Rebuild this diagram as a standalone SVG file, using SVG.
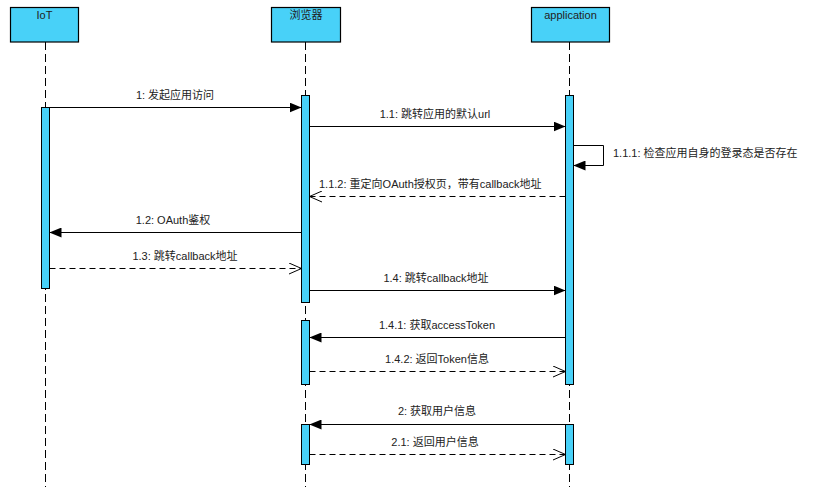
<svg xmlns="http://www.w3.org/2000/svg" width="813" height="487" viewBox="0 0 813 487">
<style>
.head{fill:#48D1F8;stroke:#000;stroke-width:1.2}
.bar{fill:#48D1F8;stroke:#000;stroke-width:1}
.life{stroke:#000;stroke-width:1;stroke-dasharray:8 4;fill:none}
.msg{stroke:#000;stroke-width:1;fill:none}
.ret{stroke:#000;stroke-width:1;fill:none;stroke-dasharray:6 4}
text{font-family:"Liberation Sans","Noto Sans CJK SC",sans-serif;font-size:11px;fill:#222}
.c{text-anchor:middle}
</style>
<defs>
<marker id="fill" viewBox="0 0 12 10" refX="12" refY="5" markerWidth="12" markerHeight="10" markerUnits="userSpaceOnUse" orient="auto">
<path d="M0,0 L12,5 L0,10 Z" fill="#000"/>
</marker>
<marker id="open" viewBox="0 0 13 12" refX="12.5" refY="6" markerWidth="13" markerHeight="12" markerUnits="userSpaceOnUse" orient="auto">
<path d="M0,0.5 L12.5,6 L0,11.5" fill="none" stroke="#000" stroke-width="1"/>
</marker>
</defs>
<rect width="813" height="487" fill="#fff"/>
<g id="lifelines">
<line class="life" x1="45.5" y1="42" x2="45.5" y2="487"/>
<line class="life" x1="305.5" y1="42" x2="305.5" y2="487"/>
<line class="life" x1="569.5" y1="42" x2="569.5" y2="487"/>
</g>
<g id="IoT">
<rect class="head" x="10.5" y="7.5" width="68" height="34.5"/>
<text class="c" x="44.5" y="19">IoT</text>
<rect class="bar" x="41.5" y="107.5" width="8" height="181"/>
</g>
<g id="browser">
<rect class="head" x="271.5" y="7.5" width="69" height="34.5"/>
<text class="c" x="306" y="19">浏览器</text>
<rect class="bar" x="301.5" y="95.5" width="8" height="207"/>
<rect class="bar" x="301.5" y="320.5" width="8" height="64"/>
<rect class="bar" x="301.5" y="424.5" width="8" height="40"/>
</g>
<g id="application">
<rect class="head" x="531.5" y="7.5" width="78" height="34.5"/>
<text class="c" x="570.5" y="19">application</text>
<rect class="bar" x="565.5" y="95.5" width="8" height="289"/>
<rect class="bar" x="565.5" y="424.5" width="8" height="40"/>
</g>
<g id="connectors">
<line class="msg" x1="49.5" y1="107.5" x2="301.5" y2="107.5" marker-end="url(#fill)"/>
<text class="c" x="175" y="99">1: 发起应用访问</text>
<line class="msg" x1="309.5" y1="126.5" x2="565.5" y2="126.5" marker-end="url(#fill)"/>
<text class="c" x="435" y="118">1.1: 跳转应用的默认url</text>
<path class="msg" d="M573.5,145.5 H603.5 V165.5 H573.5" marker-end="url(#fill)"/>
<text x="613" y="157">1.1.1: 检查应用自身的登录态是否存在</text>
<line class="ret" x1="565.5" y1="196.5" x2="309.5" y2="196.5" marker-end="url(#open)"/>
<text x="319" y="188">1.1.2: 重定向OAuth授权页，带有callback地址</text>
<line class="msg" x1="301.5" y1="232.5" x2="49.5" y2="232.5" marker-end="url(#fill)"/>
<text class="c" x="173" y="224">1.2: OAuth鉴权</text>
<line class="ret" x1="49.5" y1="268.5" x2="301.5" y2="268.5" marker-end="url(#open)"/>
<text class="c" x="185" y="260">1.3: 跳转callback地址</text>
<line class="msg" x1="309.5" y1="290.5" x2="565.5" y2="290.5" marker-end="url(#fill)"/>
<text class="c" x="436" y="282">1.4: 跳转callback地址</text>
<line class="msg" x1="565.5" y1="337.5" x2="309.5" y2="337.5" marker-end="url(#fill)"/>
<text class="c" x="437" y="329">1.4.1: 获取accessToken</text>
<line class="ret" x1="309.5" y1="371.5" x2="565.5" y2="371.5" marker-end="url(#open)"/>
<text class="c" x="437" y="363">1.4.2: 返回Token信息</text>
<line class="msg" x1="565.5" y1="424.5" x2="309.5" y2="424.5" marker-end="url(#fill)"/>
<text class="c" x="437" y="415">2: 获取用户信息</text>
<line class="ret" x1="309.5" y1="454.5" x2="565.5" y2="454.5" marker-end="url(#open)"/>
<text class="c" x="435" y="446">2.1: 返回用户信息</text>
</g>
</svg>
